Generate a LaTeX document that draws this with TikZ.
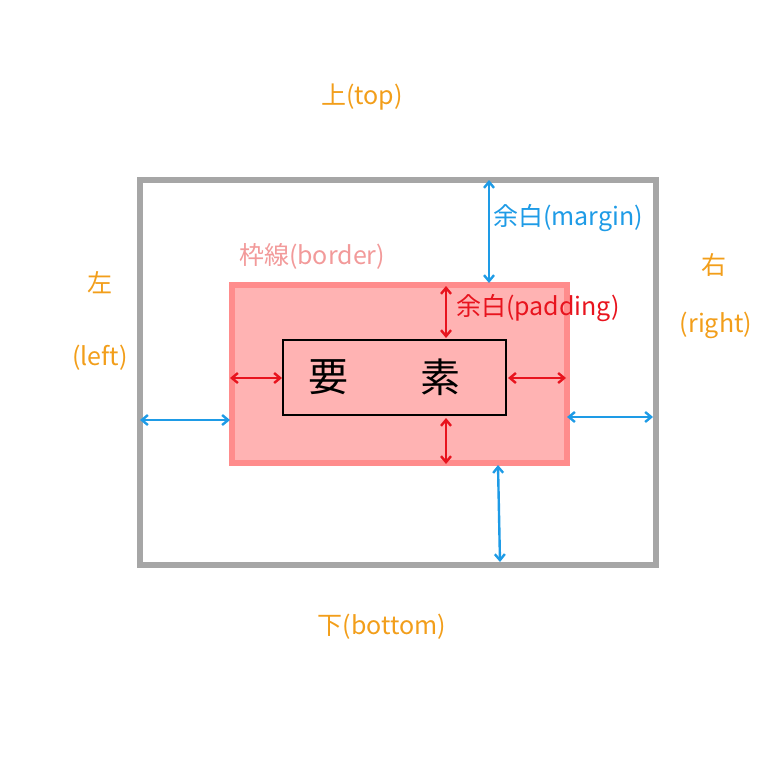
\documentclass[tikz,border=0pt]{standalone}
\usepackage{fontspec}
\setmainfont{Noto Sans CJK JP}
\usetikzlibrary{arrows.meta}
\definecolor{og}{HTML}{F29E1A}
\definecolor{bl}{HTML}{1E9BE6}
\definecolor{rd}{HTML}{E8141E}
\definecolor{pk}{HTML}{F29A9A}
\definecolor{pkfill}{HTML}{FFB3B3}
\definecolor{pkline}{HTML}{FF8C8C}
\tikzset{
 barr/.style={bl,line width=2.4pt,{Straight Barb[length=6pt,width=10pt]}-{Straight Barb[length=6pt,width=10pt]}},
 rarr/.style={rd,line width=2.4pt,{Straight Barb[length=6pt,width=10pt]}-{Straight Barb[length=6pt,width=10pt]}},
 lbl/.style={font=\fontsize{25}{27}\selectfont},
}
\begin{document}
\begin{tikzpicture}[x=1pt,y=-1pt]
\useasboundingbox (0,0) rectangle (768,768);
\node[draw=gray!70,line width=6pt,minimum width=516pt,minimum height=385pt,inner sep=0] (outer) at (398,372.5) {};
\node[draw=pkline,fill=pkfill,line width=6pt,minimum width=335pt,minimum height=178pt,inner sep=0] (border) at (399.5,374) {};
\node[draw=black,line width=2pt,minimum width=223pt,minimum height=75pt,inner sep=0] (el) at (394.5,377.5) {};
\node[font=\fontsize{40}{42}\selectfont] (y) at (328,377) {要};
\node[font=\fontsize{40}{42}\selectfont] (s) at (440,377) {素};
\coordinate (ol) at (140,420); \coordinate (bl1) at (230,420);
\coordinate (br1) at (567,417); \coordinate (or) at (653,417);
\coordinate (ot) at (489,180); \coordinate (bt) at (489,283);
\coordinate (bb) at (498,465); \coordinate (ob) at (500,562);
\draw[barr] (ol) -- (bl1);
\draw[barr] (br1) -- (or);
\draw[barr] (ot) -- (bt);
\draw[barr] (bb) -- (ob);
\coordinate (a1) at (230,378); \coordinate (a2) at (282,378);
\coordinate (a3) at (508,378); \coordinate (a4) at (566,378);
\coordinate (a5) at (446,286); \coordinate (a6) at (446,338);
\coordinate (a7) at (446,418); \coordinate (a8) at (446,464);
\draw[rarr] (a1) -- (a2);
\draw[rarr] (a3) -- (a4);
\draw[rarr] (a5) -- (a6);
\draw[rarr] (a7) -- (a8);
\node[lbl,og] (top) at (362,97) {上(top)};
\node[lbl,og] (left1) at (100,283) {左};
\node[lbl,og] (left2) at (100,358) {(left)};
\node[lbl,og] (right1) at (714,265) {右};
\node[lbl,og] (right2) at (716,325) {(right)};
\node[lbl,og] (bottom) at (382,627) {下(bottom)};
\node[lbl,pk] (blbl) at (312,256) {枠線(border)};
\node[lbl,bl] (mlbl) at (568,218) {余白(margin)};
\node[lbl,rd] (plbl) at (538,308) {余白(padding)};
\end{tikzpicture}
\end{document}
